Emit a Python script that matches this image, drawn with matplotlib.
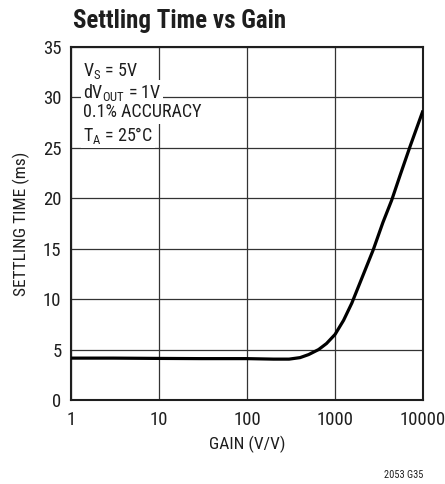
import matplotlib
matplotlib.use("Agg")
import matplotlib.pyplot as plt

# curve
gain = [1, 3, 10, 30, 100, 200, 300, 400, 500, 650, 800, 1000, 1250, 1550,
        2000, 2720, 3500, 4400, 5500, 7100, 10000]
settling_ms = [4.15, 4.15, 4.12, 4.1, 4.1, 4.05, 4.05, 4.2, 4.5, 5.0, 5.6, 6.5,
               7.9, 9.6, 12.0, 14.9, 17.6, 19.8, 22.3, 25.1, 28.7]

x_ticks = [1, 10, 100, 1000, 10000]
x_ticklabels = ["1", "10", "100", "1000", "10000"]
y_ticks = [0, 5, 10, 15, 20, 25, 30, 35]
note_lines = ["V$\\mathregular{_S}$ = 5V",
              "dV$\\mathregular{_{OUT}}$ = 1V",
              "0.1% ACCURACY",
              "T$\\mathregular{_A}$ = 25°C"]

ink = "#1e1e1e"
plt.rcParams['font.family'] = ['Roboto Condensed', 'DejaVu Sans']
plt.rcParams['mathtext.fontset'] = 'custom'
plt.rcParams['mathtext.rm'] = 'Roboto Condensed'

fig = plt.figure(figsize=(4.45, 4.84), dpi=100)
ax = fig.add_axes([0.16, 0.1736, 0.7906, 0.7294])

ax.plot(gain, settling_ms, color="black", lw=2.3, solid_capstyle="butt", zorder=3)
ax.set_xscale("log")
ax.set_xlim(1, 10000)
ax.set_ylim(0, 35)
ax.set_xticks(x_ticks)
ax.set_xticklabels(x_ticklabels)
ax.minorticks_off()
ax.set_yticks(y_ticks)
ax.grid(True, color="#333333", lw=0.9)
ax.tick_params(length=0, labelsize=13.5, colors=ink)
ax.tick_params(axis="y", pad=7)
ax.tick_params(axis="x", pad=8)
for s in ax.spines.values():
    s.set_linewidth(1.5)
    s.set_color(ink)

ax.set_xlabel("GAIN (V/V)", fontsize=12.5, color=ink, labelpad=5)
ax.set_ylabel("SETTLING TIME (ms)", fontsize=12.5, color=ink, labelpad=9)

fig.text(0.163, 0.957, "Settling Time vs Gain", fontsize=18, fontweight="bold",
         color=ink, va="center", ha="left")

for i, line in enumerate(note_lines):
    ax.text(0.033, 0.96 - i * 0.06, line, transform=ax.transAxes, fontsize=13,
            va="top", ha="left", color=ink, zorder=4,
            bbox=dict(facecolor="white", edgecolor="none", pad=1.5))

fig.text(0.951, 0.019, "2053 G35", fontsize=7.5, ha="right", va="center", color=ink)

fig.savefig("out.png", dpi=100)
